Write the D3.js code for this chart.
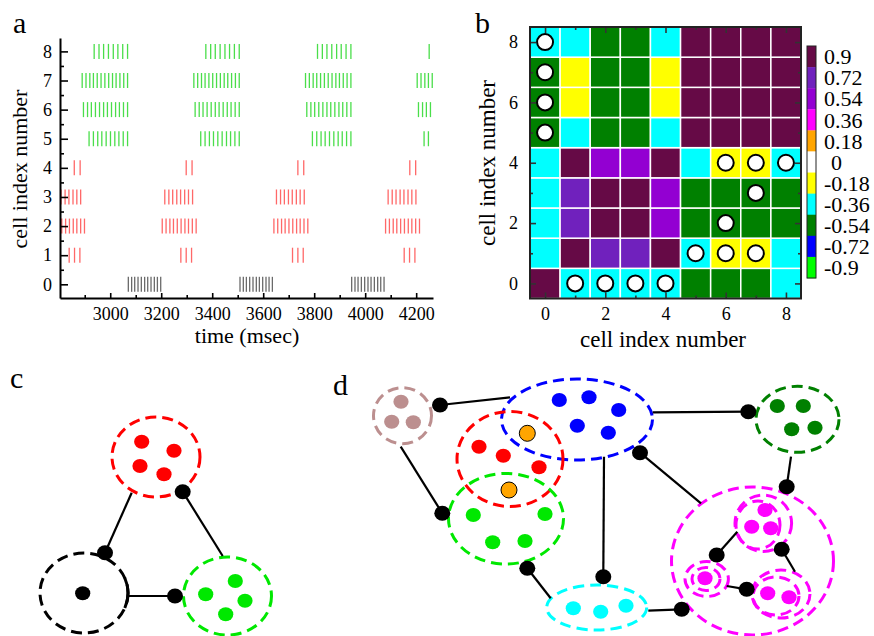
<!DOCTYPE html>
<html>
<head>
<meta charset="utf-8">
<script src="https://cdn.jsdelivr.net/npm/d3@7"></script>
<style>
  body { margin: 0; background: #fff; }
  svg { display: block; }
  text { font-family: "Liberation Serif", "Times New Roman", serif; fill: #000; }
</style>
</head>
<body>
<svg id="fig" width="874" height="636"></svg>
<script>
// ---------------- panel a: spike raster (times in msec) ----------------
const spikesCell0 = [3071,3084,3096,3109,3122,3135,3147,3160,3173,3185,3198,
  3509,3522,3534,3547,3560,3573,3585,3598,3611,3623,3636,
  3947,3960,3972,3985,3998,4011,4023,4036,4049,4061,4074];
const spikesCell1 = [2839,2860,2881, 3277,3298,3319, 3715,3736,3757, 4153,4174,4195];
const spikesCell2 = [2810,2825,2840,2855,2869,2884,2899,
  3204,3219,3234,3248,3263,3278,3293,3307,3322,3337,
  3642,3657,3672,3686,3701,3716,3731,3745,3760,3775,
  4080,4095,4110,4124,4139,4154,4169,4183,4198,4213];
const spikesCell3 = [2807,2823,2838,2854,2869,2884,
  3214,3230,3245,3261,3276,3292,3307,3323,
  3652,3668,3683,3699,3714,3730,3745,3761,
  4090,4106,4121,4137,4152,4168,4183,4199];
const spikesCell4 = [2859,2882, 3298,3321, 3736,3759, 4175,4198];
const spikesCell5 = [2917,2934,2951,2967,2984,3001,3018,3034,3051,3068,
  3355,3372,3389,3405,3422,3439,3456,3472,3489,3506,
  3793,3810,3827,3843,3860,3877,3894,3910,3927,3944,
  4231,4248];
const spikesCell6 = [2895,2911,2926,2942,2958,2974,2989,3005,3021,3036,3052,3068,
  3333,3349,3364,3380,3396,3412,3427,3443,3459,3474,3490,3506,
  3771,3787,3802,3818,3834,3850,3865,3881,3897,3912,3928,3944,
  4209,4225,4240,4256];
const spikesCell7 = [2890,2905,2920,2934,2949,2964,2979,2994,3009,3023,3038,3053,3068,
  3328,3343,3358,3372,3387,3402,3417,3432,3447,3461,3476,3491,3506,
  3766,3781,3796,3810,3825,3840,3855,3870,3885,3899,3914,3929,3944,
  4204,4219,4234,4248,4263];
const spikesCell8 = [2937,2956,2974,2993,3012,3030,3049,3068,
  3375,3394,3412,3431,3450,3468,3487,3506,
  3813,3832,3850,3869,3888,3906,3925,3944,
  4251];
const spikeTrains = [spikesCell0, spikesCell1, spikesCell2, spikesCell3, spikesCell4,
  spikesCell5, spikesCell6, spikesCell7, spikesCell8];
const cellGroupColor = ["#6a6a6a", "#ff6868", "#ff6868", "#ff6868", "#ff6868",
  "#4ade4a", "#4ade4a", "#4ade4a", "#4ade4a"];
const timeTicks = [3000, 3200, 3400, 3600, 3800, 4000, 4200];
const timeMinorTicks = [2900, 3100, 3300, 3500, 3700, 3900, 4100];
const cellTicks = [0, 1, 2, 3, 4, 5, 6, 7, 8];
const cellMinorTicks = [0.5, 1.5, 2.5, 3.5, 4.5, 5.5, 6.5, 7.5];

// ---------------- panel b: correlation matrix ----------------
// corrRows[y][x] : correlation between cell x and cell y
const corrRows = [
  [ 0.90, -0.36, -0.36, -0.36, -0.36, -0.54, -0.54, -0.54, -0.36],
  [-0.36,  0.90,  0.72,  0.72,  0.90, -0.36, -0.18, -0.18, -0.36],
  [-0.36,  0.72,  0.90,  0.90,  0.54, -0.54, -0.54, -0.54, -0.54],
  [-0.36,  0.72,  0.90,  0.90,  0.54, -0.54, -0.54, -0.54, -0.54],
  [-0.36,  0.90,  0.54,  0.54,  0.90, -0.36, -0.18, -0.18, -0.36],
  [-0.54, -0.36, -0.54, -0.54, -0.36,  0.90,  0.90,  0.90,  0.90],
  [-0.54, -0.18, -0.54, -0.54, -0.18,  0.90,  0.90,  0.90,  0.90],
  [-0.54, -0.18, -0.54, -0.54, -0.18,  0.90,  0.90,  0.90,  0.90],
  [-0.36, -0.36, -0.54, -0.54, -0.36,  0.90,  0.90,  0.90,  0.90]
];
// coupled pairs [x, y]
const couplings = [[0,5],[0,6],[0,7],[0,8],[6,4],[7,4],[8,4],[7,3],[6,2],
  [5,1],[6,1],[7,1],[1,0],[2,0],[3,0],[4,0]];
const matrixTicks = [0, 2, 4, 6, 8];
const matrixMinorTicks = [1, 3, 5, 7];
const cbLabels = ["0.9", "0.72", "0.54", "0.36", "0.18", "0", "-0.18", "-0.36", "-0.54", "-0.72", "-0.9"];
const cbColors = ["#660a46", "#7021bd", "#9300d2", "#ff00ff", "#ffa500", "#ffffff",
  "#ffff00", "#00ffff", "#008000", "#0000ff", "#00ff00"];

// ---------------- panel c: three-group circuit (panel-local units) ----------------
const ringsC = [
  {cx: 156, cy: 97, rx: 44, ry: 40, color: "#ff0000"},
  {cx: 84, cy: 233, rx: 44, ry: 40, color: "#000000"},
  {cx: 227.5, cy: 236, rx: 44, ry: 39, color: "#00e800"}
];
const dotsC = [
  {x: 141.7, y: 81.7, color: "#ff0000"}, {x: 174, y: 90.7, color: "#ff0000"},
  {x: 140, y: 106, color: "#ff0000"}, {x: 164, y: 114.3, color: "#ff0000"},
  {x: 82.7, y: 233.3, color: "#000000"},
  {x: 235.3, y: 221, color: "#00e800"}, {x: 205.7, y: 234.3, color: "#00e800"},
  {x: 245, y: 240.7, color: "#00e800"}, {x: 225.7, y: 254.3, color: "#00e800"}
];
// links: x1,y1 -> x2,y2 ; knob = which end carries the synapse dot
const linksC = [
  {x1: 131.7, y1: 132.7, x2: 105, y2: 192.7, knob: "end"},
  {x1: 182.7, y1: 131.7, x2: 222.7, y2: 196, knob: "start"},
  {x1: 127.7, y1: 236, x2: 175, y2: 236, knob: "end"}
];

// ---------------- panel d: seven-group network (panel-local units) ----------------
const ringsD = [
  {cx: 72.5, cy: 55.7, rx: 29, ry: 28, color: "#bc8f8f"},
  {cx: 247, cy: 59.5, rx: 75.5, ry: 40.5, color: "#0000ff"},
  {cx: 467.5, cy: 59.3, rx: 41.5, ry: 33, color: "#008000"},
  {cx: 180, cy: 99, rx: 53, ry: 47.5, color: "#ff0000"},
  {cx: 176, cy: 158.7, rx: 57.5, ry: 45.3, color: "#00e800"},
  {cx: 266.7, cy: 247.5, rx: 50, ry: 22.5, color: "#00ffff"},
  {cx: 422.5, cy: 201, rx: 81, ry: 74, color: "#ff00ff"},
  {cx: 433.3, cy: 163.3, rx: 28.3, ry: 28.3, color: "#ff00ff"},
  {cx: 428, cy: 165, rx: 22, ry: 24, color: "#ff00ff"},
  {cx: 376.7, cy: 219, rx: 21.7, ry: 17.5, color: "#ff00ff"},
  {cx: 376, cy: 219, rx: 14, ry: 11.5, color: "#ff00ff"},
  {cx: 451, cy: 234, rx: 29, ry: 24, color: "#ff00ff"},
  {cx: 446, cy: 236, rx: 23, ry: 19, color: "#ff00ff"}
];
const dotsD = [
  {x: 71, y: 41.7, color: "#bc8f8f"}, {x: 61.7, y: 61.7, color: "#bc8f8f"}, {x: 83.3, y: 62.3, color: "#bc8f8f"},
  {x: 229.3, y: 40, color: "#0000ff"}, {x: 259, y: 37.3, color: "#0000ff"}, {x: 288.7, y: 50, color: "#0000ff"},
  {x: 247.3, y: 65.7, color: "#0000ff"}, {x: 278.3, y: 72.7, color: "#0000ff"},
  {x: 447.3, y: 46, color: "#008000"}, {x: 473.3, y: 46, color: "#008000"},
  {x: 461.7, y: 69.3, color: "#008000"}, {x: 485, y: 67.7, color: "#008000"},
  {x: 149, y: 86.7, color: "#ff0000"}, {x: 173.3, y: 95.7, color: "#ff0000"}, {x: 209, y: 107.3, color: "#ff0000"},
  {x: 143.3, y: 155, color: "#00e800"}, {x: 215, y: 154, color: "#00e800"},
  {x: 162.7, y: 182.3, color: "#00e800"}, {x: 195, y: 181, color: "#00e800"},
  {x: 243.3, y: 248.3, color: "#00ffff"}, {x: 270.7, y: 251.7, color: "#00ffff"}, {x: 296, y: 245.7, color: "#00ffff"},
  {x: 435, y: 150, color: "#ff00ff"}, {x: 421.7, y: 166.7, color: "#ff00ff"}, {x: 440.7, y: 168.3, color: "#ff00ff"},
  {x: 375, y: 218.3, color: "#ff00ff"},
  {x: 437.7, y: 233.3, color: "#ff00ff"}, {x: 459, y: 237.3, color: "#ff00ff"}
];
// cells shared by two groups
const sharedDotsD = [{x: 197.3, y: 73.3}, {x: 179, y: 130}];
const linksD = [
  {x1: 110, y1: 45, x2: 180, y2: 37.3, knob: "start"},
  {x1: 70.7, y1: 86.7, x2: 112.3, y2: 153.3, knob: "end"},
  {x1: 322.7, y1: 52.3, x2: 418.3, y2: 51.7, knob: "end"},
  {x1: 461, y1: 96.7, x2: 456.7, y2: 126.7, knob: "end"},
  {x1: 274, y1: 96.7, x2: 273.3, y2: 216.7, knob: "end"},
  {x1: 310, y1: 92.7, x2: 371, y2: 143.3, knob: "start"},
  {x1: 197.3, y1: 208.3, x2: 220.7, y2: 238.3, knob: "start"},
  {x1: 318.3, y1: 250.7, x2: 351.7, y2: 249.3, knob: "end"},
  {x1: 386.7, y1: 195, x2: 407.3, y2: 171.7, knob: "start"},
  {x1: 451.7, y1: 189.3, x2: 465, y2: 211.7, knob: "start"},
  {x1: 396.7, y1: 226, x2: 416.7, y2: 229.3, knob: "end"}
];

// =====================================================================
const svg = d3.select("#fig");
const FONT = '"Liberation Serif", "Times New Roman", serif';

function styleAxis(g, size) {
  g.attr("font-family", FONT).attr("font-size", size);
  g.selectAll(".tick text").attr("fill", "#000");
  g.selectAll(".tick line").attr("stroke", "#000").attr("stroke-width", 1.6);
  g.select(".domain").attr("stroke", "#000").attr("stroke-width", 2);
}

function panelLetter(x, y, t) {
  svg.append("text").attr("x", x).attr("y", y).attr("font-size", 30).text(t);
}

// ---------------- panel a ----------------
{
  const x = d3.scaleLinear().domain([2803, 4266]).range([60, 433]);
  const y = d3.scaleLinear().domain([-0.47, 8.46]).range([298, 38]);
  const g = svg.append("g");

  spikeTrains.forEach((times, cell) => {
    g.append("g").selectAll("line")
      .data(times.filter(t => t >= x.domain()[0] && t <= x.domain()[1]))
      .join("line")
      .attr("x1", t => x(t)).attr("x2", t => x(t))
      .attr("y1", y(cell) - 7.5).attr("y2", y(cell) + 7.5)
      .attr("stroke", cellGroupColor[cell]).attr("stroke-width", 1.3);
  });

  const yMinor = g.append("g").attr("transform", `translate(${x.range()[0]},0)`)
    .call(d3.axisLeft(y).tickValues(cellMinorTicks).tickSize(-4).tickFormat(""));
  yMinor.select(".domain").remove();
  styleAxis(yMinor, 18);
  const xMinor = g.append("g").attr("transform", `translate(0,${y.range()[0]})`)
    .call(d3.axisBottom(x).tickValues(timeMinorTicks).tickSize(-3).tickFormat(""));
  xMinor.select(".domain").remove();
  styleAxis(xMinor, 18);

  const yAx = g.append("g").attr("transform", `translate(${x.range()[0]},0)`)
    .call(d3.axisLeft(y).tickValues(cellTicks).tickSize(-8).tickSizeOuter(0).tickPadding(8).tickFormat(d3.format("d")));
  styleAxis(yAx, 18);
  const xAx = g.append("g").attr("transform", `translate(0,${y.range()[0]})`)
    .call(d3.axisBottom(x).tickValues(timeTicks).tickSize(-5).tickSizeOuter(0).tickPadding(9).tickFormat(d3.format("d")));
  styleAxis(xAx, 18);

  g.append("text").attr("x", 247).attr("y", 343).attr("text-anchor", "middle")
    .attr("font-size", 22).text("time (msec)");
  g.append("text").attr("transform", "translate(27,169) rotate(-90)").attr("text-anchor", "middle")
    .attr("font-size", 22).text("cell index number");
  panelLetter(13, 33, "a");
}

// ---------------- panel b ----------------
{
  const x = d3.scaleLinear().domain([-0.5, 8.5]).range([530, 801]);
  const y = d3.scaleLinear().domain([-0.5, 8.5]).range([298.5, 27]);
  const color = d3.scaleQuantize().domain([-0.99, 0.99]).range(cbColors.slice().reverse());
  const g = svg.append("g");

  const cells = [];
  corrRows.forEach((row, yi) => row.forEach((v, xi) => cells.push({xi, yi, v})));
  g.append("g").selectAll("rect").data(cells).join("rect")
    .attr("x", d => x(d.xi - 0.5)).attr("y", d => y(d.yi + 0.5))
    .attr("width", d => x(d.xi + 0.5) - x(d.xi - 0.5))
    .attr("height", d => y(d.yi - 0.5) - y(d.yi + 0.5))
    .attr("fill", d => color(d.v))
    .attr("stroke", "#fff").attr("stroke-width", 1.5);

  // tick marks on all four sides
  const sides = [
    [d3.axisLeft, `translate(${x.range()[0]},0)`, y],
    [d3.axisRight, `translate(${x.range()[1]},0)`, y],
    [d3.axisBottom, `translate(0,${y.range()[0]})`, x],
    [d3.axisTop, `translate(0,${y.range()[1]})`, x]
  ];
  sides.forEach(([fn, tr, sc], i) => {
    const mi = g.append("g").attr("transform", tr)
      .call(fn(sc).tickValues(matrixMinorTicks).tickSize(-3).tickFormat(""));
    mi.select(".domain").remove();
    styleAxis(mi, 18);
    mi.selectAll(".tick line").attr("stroke", "#333");
    const ma = g.append("g").attr("transform", tr)
      .call(fn(sc).tickValues(matrixTicks).tickSize(-6).tickSizeOuter(0)
        .tickPadding(i === 0 ? 12 : 9).tickFormat(i < 1 || i === 2 ? d3.format("d") : ""));
    ma.select(".domain").remove();
    styleAxis(ma, 18);
    ma.selectAll(".tick line").attr("stroke", "#333");
  });

  g.append("rect").attr("x", x.range()[0]).attr("y", y.range()[1])
    .attr("width", x.range()[1] - x.range()[0]).attr("height", y.range()[0] - y.range()[1])
    .attr("fill", "none").attr("stroke", "#222").attr("stroke-width", 2);

  g.append("g").selectAll("circle").data(couplings).join("circle")
    .attr("cx", d => x(d[0])).attr("cy", d => y(d[1])).attr("r", 8)
    .attr("fill", "#fff").attr("stroke", "#000").attr("stroke-width", 2);

  // colour bar
  const cb = d3.scaleBand().domain(cbLabels).range([46, 278]);
  const cg = g.append("g");
  cg.selectAll("rect").data(cbLabels).join("rect")
    .attr("x", 807).attr("y", d => cb(d)).attr("width", 9).attr("height", cb.bandwidth() + 0.3)
    .attr("fill", (d, i) => cbColors[i]);
  cg.append("rect").attr("x", 807).attr("y", 46).attr("width", 9).attr("height", 232)
    .attr("fill", "none").attr("stroke", "#222").attr("stroke-width", 1);
  cg.selectAll("text").data(cbLabels).join("text")
    .attr("x", d => d === "0" ? 831 : 824).attr("y", d => cb(d) + cb.bandwidth() / 2)
    .attr("dy", "0.35em").attr("font-size", 22).text(d => d);

  g.append("text").attr("x", 663).attr("y", 347).attr("text-anchor", "middle")
    .attr("font-size", 23).text("cell index number");
  g.append("text").attr("transform", "translate(495,163) rotate(-90)").attr("text-anchor", "middle")
    .attr("font-size", 23).text("cell index number");
  panelLetter(475, 33, "b");
}

// ---------------- network sketches ----------------
function drawNetwork(ox, oy, w, h, rings, links, dots, shared) {
  const sx = d3.scaleLinear().domain([0, w]).range([ox, ox + w]);
  const sy = d3.scaleLinear().domain([0, h]).range([oy, oy + h]);
  const g = svg.append("g");
  g.append("g").selectAll("ellipse").data(rings).join("ellipse")
    .attr("cx", d => sx(d.cx)).attr("cy", d => sy(d.cy))
    .attr("rx", d => d.rx).attr("ry", d => d.ry)
    .attr("fill", "none").attr("stroke", d => d.color).attr("stroke-width", 3)
    .attr("stroke-dasharray", "11 6");
  g.append("g").selectAll("line").data(links).join("line")
    .attr("x1", d => sx(d.x1)).attr("y1", d => sy(d.y1))
    .attr("x2", d => sx(d.x2)).attr("y2", d => sy(d.y2))
    .attr("stroke", "#000").attr("stroke-width", 2.2);
  g.append("g").selectAll("ellipse").data(dots).join("ellipse")
    .attr("cx", d => sx(d.x)).attr("cy", d => sy(d.y)).attr("rx", 7.6).attr("ry", 7)
    .attr("fill", d => d.color);
  g.append("g").selectAll("circle").data(shared || []).join("circle")
    .attr("cx", d => sx(d.x)).attr("cy", d => sy(d.y)).attr("r", 8)
    .attr("fill", "#ffa500").attr("stroke", "#000").attr("stroke-width", 1);
  g.append("g").selectAll("ellipse").data(links).join("ellipse")
    .attr("cx", d => sx(d.knob === "end" ? d.x2 : d.x1))
    .attr("cy", d => sy(d.knob === "end" ? d.y2 : d.y1))
    .attr("rx", 8).attr("ry", 7.5).attr("fill", "#000");
  return {g, sx, sy};
}

// panel c
{
  const {g, sx, sy} = drawNetwork(0, 360, 300, 276, ringsC, linksC, dotsC, []);
  // bar where the inhibitory link meets the black group
  const ring = ringsC[1];
  const a0 = -22 * Math.PI / 180, a1 = 22 * Math.PI / 180;
  const p0 = [sx(ring.cx + ring.rx * Math.cos(a0)), sy(ring.cy + ring.ry * Math.sin(a0))];
  const p1 = [sx(ring.cx + ring.rx * Math.cos(a1)), sy(ring.cy + ring.ry * Math.sin(a1))];
  g.append("path")
    .attr("d", `M${p0[0]},${p0[1]} A${ring.rx},${ring.ry} 0 0 1 ${p1[0]},${p1[1]}`)
    .attr("fill", "none").attr("stroke", "#000").attr("stroke-width", 3);
  panelLetter(10, 388, "c");
}

// panel d
{
  drawNetwork(330, 360, 544, 276, ringsD, linksD, dotsD, sharedDotsD);
  panelLetter(333, 395, "d");
}
</script>
</body>
</html>
